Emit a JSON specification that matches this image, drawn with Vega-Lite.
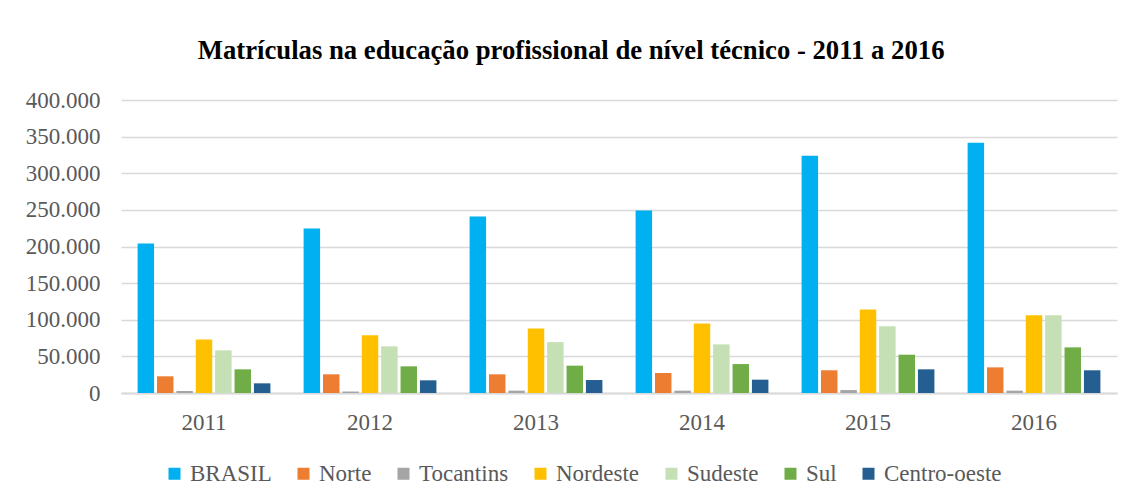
{
  "$schema": "https://vega.github.io/schema/vega-lite/v6.json",
  "width": 996,
  "height": 293,
  "padding": {"left": 25, "top": 38, "right": 15, "bottom": 5},
  "autosize": {"type": "pad"},
  "background": "white",
  "config": {
    "locale": {"number": {"decimal": ",", "thousands": ".", "grouping": [3], "currency": ["R$", ""]}},
    "view": {"stroke": null},
    "font": "Liberation Serif",
    "legend": {"labelFont": "Liberation Serif", "labelFontSize": 23, "labelColor": "#595959"}
  },
  "title": {
    "text": "Matrículas na educação profissional de nível técnico - 2011 a 2016",
    "font": "Liberation Serif",
    "fontSize": 26.7,
    "fontWeight": "bold",
    "color": "#000000",
    "anchor": "middle",
    "frame": "bounds",
    "offset": 24
  },
  "data": {
    "values": [
      {"ano": "2011", "regiao": "BRASIL", "matriculas": 204000},
      {"ano": "2011", "regiao": "Norte", "matriculas": 22800},
      {"ano": "2011", "regiao": "Tocantins", "matriculas": 2700},
      {"ano": "2011", "regiao": "Nordeste", "matriculas": 73200},
      {"ano": "2011", "regiao": "Sudeste", "matriculas": 58200},
      {"ano": "2011", "regiao": "Sul", "matriculas": 32300},
      {"ano": "2011", "regiao": "Centro-oeste", "matriculas": 13200},
      {"ano": "2012", "regiao": "BRASIL", "matriculas": 224500},
      {"ano": "2012", "regiao": "Norte", "matriculas": 25500},
      {"ano": "2012", "regiao": "Tocantins", "matriculas": 2000},
      {"ano": "2012", "regiao": "Nordeste", "matriculas": 78700},
      {"ano": "2012", "regiao": "Sudeste", "matriculas": 63700},
      {"ano": "2012", "regiao": "Sul", "matriculas": 36400},
      {"ano": "2012", "regiao": "Centro-oeste", "matriculas": 17300},
      {"ano": "2013", "regiao": "BRASIL", "matriculas": 240900},
      {"ano": "2013", "regiao": "Norte", "matriculas": 25500},
      {"ano": "2013", "regiao": "Tocantins", "matriculas": 3200},
      {"ano": "2013", "regiao": "Nordeste", "matriculas": 88200},
      {"ano": "2013", "regiao": "Sudeste", "matriculas": 69500},
      {"ano": "2013", "regiao": "Sul", "matriculas": 37300},
      {"ano": "2013", "regiao": "Centro-oeste", "matriculas": 17700},
      {"ano": "2014", "regiao": "BRASIL", "matriculas": 249000},
      {"ano": "2014", "regiao": "Norte", "matriculas": 27300},
      {"ano": "2014", "regiao": "Tocantins", "matriculas": 3200},
      {"ano": "2014", "regiao": "Nordeste", "matriculas": 95000},
      {"ano": "2014", "regiao": "Sudeste", "matriculas": 66400},
      {"ano": "2014", "regiao": "Sul", "matriculas": 39500},
      {"ano": "2014", "regiao": "Centro-oeste", "matriculas": 18200},
      {"ano": "2015", "regiao": "BRASIL", "matriculas": 324000},
      {"ano": "2015", "regiao": "Norte", "matriculas": 31000},
      {"ano": "2015", "regiao": "Tocantins", "matriculas": 4000},
      {"ano": "2015", "regiao": "Nordeste", "matriculas": 114000},
      {"ano": "2015", "regiao": "Sudeste", "matriculas": 91000},
      {"ano": "2015", "regiao": "Sul", "matriculas": 52300},
      {"ano": "2015", "regiao": "Centro-oeste", "matriculas": 32300},
      {"ano": "2016", "regiao": "BRASIL", "matriculas": 341800},
      {"ano": "2016", "regiao": "Norte", "matriculas": 35000},
      {"ano": "2016", "regiao": "Tocantins", "matriculas": 3200},
      {"ano": "2016", "regiao": "Nordeste", "matriculas": 106000},
      {"ano": "2016", "regiao": "Sudeste", "matriculas": 106200},
      {"ano": "2016", "regiao": "Sul", "matriculas": 62300},
      {"ano": "2016", "regiao": "Centro-oeste", "matriculas": 31000}
    ]
  },
  "mark": {"type": "bar"},
  "encoding": {
    "x": {
      "field": "ano",
      "type": "ordinal",
      "scale": {"paddingInner": 0.2, "paddingOuter": 0.1},
      "axis": {
        "title": null,
        "labelAngle": 0,
        "ticks": false,
        "domain": true,
        "domainColor": "#d9d9d9",
        "domainWidth": 2,
        "labelFontSize": 23,
        "labelColor": "#595959",
        "labelPadding": 18,
        "labelFont": "Liberation Serif"
      }
    },
    "xOffset": {
      "field": "regiao",
      "type": "nominal",
      "sort": ["BRASIL", "Norte", "Tocantins", "Nordeste", "Sudeste", "Sul", "Centro-oeste"],
      "scale": {"paddingInner": 0.15}
    },
    "y": {
      "field": "matriculas",
      "type": "quantitative",
      "scale": {"domain": [0, 400000]},
      "axis": {
        "title": null,
        "format": ",d",
        "values": [0, 50000, 100000, 150000, 200000, 250000, 300000, 350000, 400000],
        "ticks": false,
        "domain": false,
        "gridColor": "#d9d9d9",
        "gridWidth": 1.5,
        "labelFontSize": 23,
        "labelColor": "#595959",
        "labelPadding": 21,
        "labelFont": "Liberation Serif"
      }
    },
    "color": {
      "field": "regiao",
      "type": "nominal",
      "sort": ["BRASIL", "Norte", "Tocantins", "Nordeste", "Sudeste", "Sul", "Centro-oeste"],
      "scale": {
        "domain": ["BRASIL", "Norte", "Tocantins", "Nordeste", "Sudeste", "Sul", "Centro-oeste"],
        "range": ["#00B0F0", "#ED7D31", "#A5A5A5", "#FFC000", "#C5E0B4", "#70AD47", "#255E91"]
      },
      "legend": {
        "title": null,
        "orient": "none",
        "legendX": 42,
        "legendY": 362,
        "direction": "horizontal",
        "symbolType": "square",
        "symbolSize": 144,
        "symbolStrokeWidth": 0,
        "labelFontSize": 23,
        "labelColor": "#595959",
        "labelFont": "Liberation Serif",
        "columnPadding": 20,
        "labelOffset": 4
      }
    }
  }
}
